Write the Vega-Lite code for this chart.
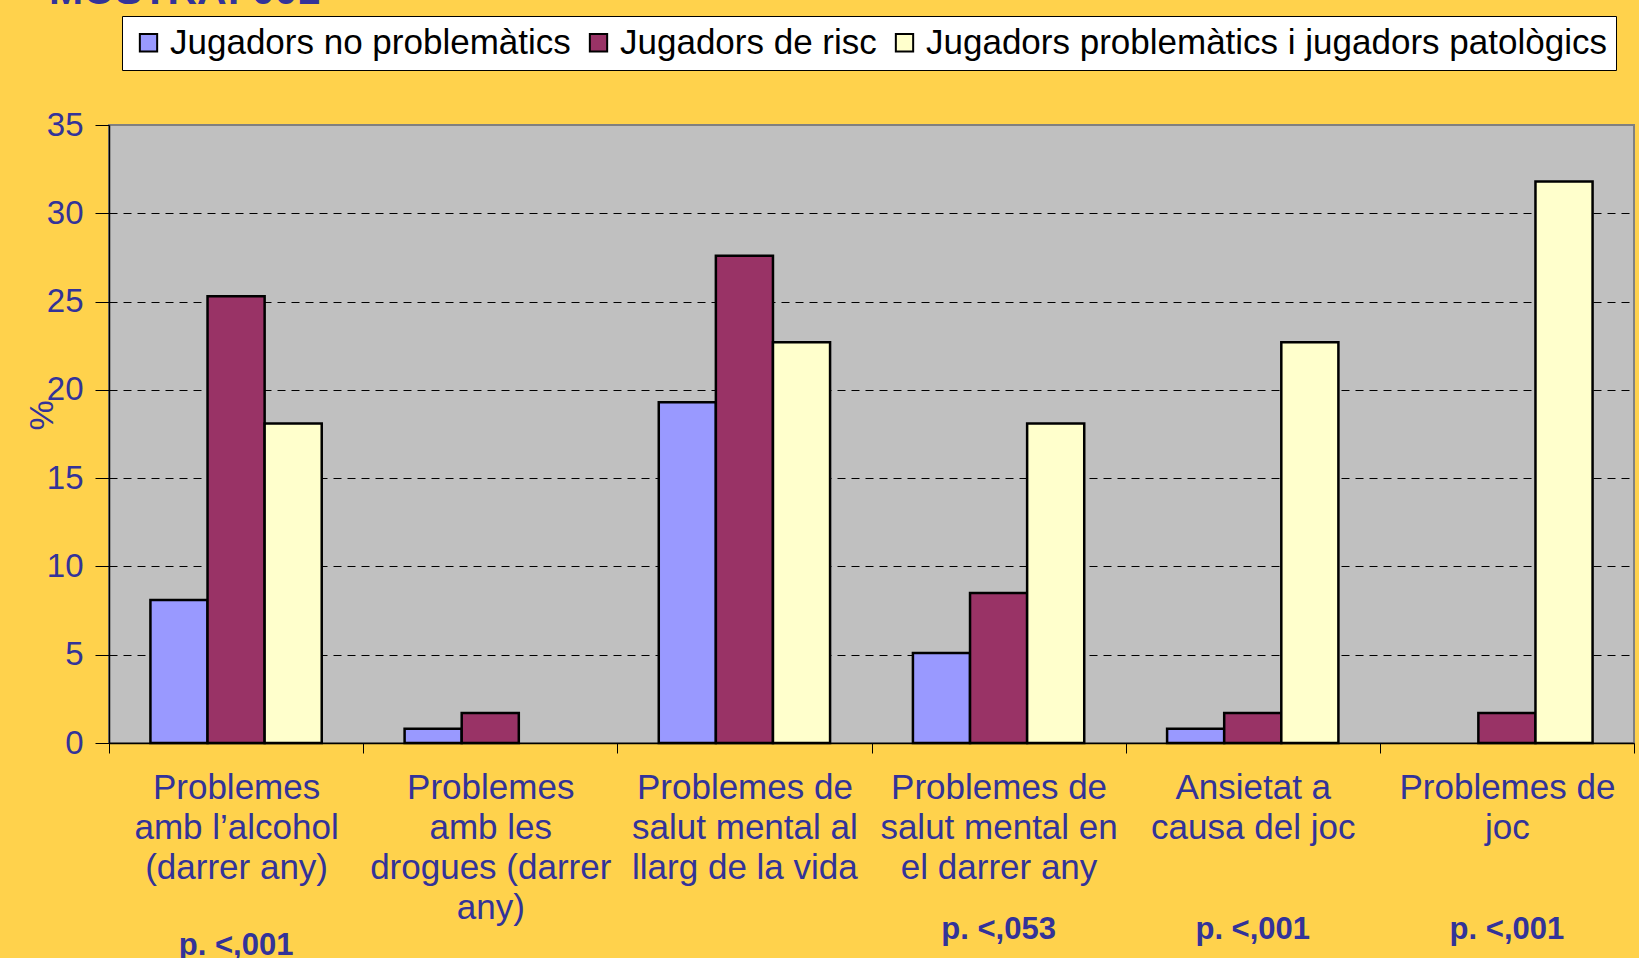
{
  "$schema": "https://vega.github.io/schema/vega-lite/v6.json",
  "width": 1525,
  "height": 618,
  "autosize": {"type": "none"},
  "padding": {"left": 109, "top": 125, "right": 5, "bottom": 215},
  "background": "#FFD24C",
  "title": {
    "text": "MOSTRA: 001",
    "anchor": "start",
    "frame": "group",
    "orient": "top",
    "offset": 0,
    "dx": -60,
    "dy": 29,
    "fontSize": 41,
    "fontWeight": "bold",
    "color": "#333399",
    "font": "Liberation Sans",
    "baseline": "alphabetic"
  },
  "config": {
    "font": "Liberation Sans",
    "view": {"fill": "#C0C0C0", "stroke": "#808080", "strokeWidth": 2}
  },
  "datasets": {
    "barres": [
      {"categoria": "Problemes|amb l’alcohol|(darrer any)", "grup": "Jugadors no problemàtics", "valor": 8.1},
      {"categoria": "Problemes|amb l’alcohol|(darrer any)", "grup": "Jugadors de risc", "valor": 25.3},
      {"categoria": "Problemes|amb l’alcohol|(darrer any)", "grup": "Jugadors problemàtics i jugadors patològics", "valor": 18.1},
      {"categoria": "Problemes|amb les|drogues (darrer|any)", "grup": "Jugadors no problemàtics", "valor": 0.8},
      {"categoria": "Problemes|amb les|drogues (darrer|any)", "grup": "Jugadors de risc", "valor": 1.7},
      {"categoria": "Problemes|amb les|drogues (darrer|any)", "grup": "Jugadors problemàtics i jugadors patològics", "valor": 0},
      {"categoria": "Problemes de|salut mental al|llarg de la vida", "grup": "Jugadors no problemàtics", "valor": 19.3},
      {"categoria": "Problemes de|salut mental al|llarg de la vida", "grup": "Jugadors de risc", "valor": 27.6},
      {"categoria": "Problemes de|salut mental al|llarg de la vida", "grup": "Jugadors problemàtics i jugadors patològics", "valor": 22.7},
      {"categoria": "Problemes de|salut mental en|el darrer any", "grup": "Jugadors no problemàtics", "valor": 5.1},
      {"categoria": "Problemes de|salut mental en|el darrer any", "grup": "Jugadors de risc", "valor": 8.5},
      {"categoria": "Problemes de|salut mental en|el darrer any", "grup": "Jugadors problemàtics i jugadors patològics", "valor": 18.1},
      {"categoria": "Ansietat a|causa del joc", "grup": "Jugadors no problemàtics", "valor": 0.8},
      {"categoria": "Ansietat a|causa del joc", "grup": "Jugadors de risc", "valor": 1.7},
      {"categoria": "Ansietat a|causa del joc", "grup": "Jugadors problemàtics i jugadors patològics", "valor": 22.7},
      {"categoria": "Problemes de|joc", "grup": "Jugadors no problemàtics", "valor": 0},
      {"categoria": "Problemes de|joc", "grup": "Jugadors de risc", "valor": 1.7},
      {"categoria": "Problemes de|joc", "grup": "Jugadors problemàtics i jugadors patològics", "valor": 31.8}
    ],
    "pvalors": [
      {"categoria": "Problemes|amb l’alcohol|(darrer any)", "p": "p. <,001"},
      {"categoria": "Problemes de|salut mental en|el darrer any", "p": "p. <,053"},
      {"categoria": "Ansietat a|causa del joc", "p": "p. <,001"},
      {"categoria": "Problemes de|joc", "p": "p. <,001"}
    ]
  },
  "layer": [
    {
      "data": {"name": "barres"},
      "transform": [{"filter": "datum.valor > 0"}],
      "mark": {"type": "bar", "stroke": "black", "strokeWidth": 2.5},
      "encoding": {
        "x": {
          "field": "categoria",
          "type": "nominal",
          "sort": null,
          "scale": {"paddingInner": 0, "paddingOuter": 0},
          "axis": {
            "title": null,
            "labelExpr": "split(datum.label, '|')",
            "labelAngle": 0,
            "labelFontSize": 35,
            "labelLineHeight": 40,
            "labelColor": "#333399",
            "labelPadding": 17,
            "labelLimit": 500,
            "labelBaseline": "top",
            "tickBand": "extent",
            "tickSize": 10,
            "tickColor": "black",
            "domainColor": "black",
            "domainWidth": 1.5,
            "grid": false
          }
        },
        "xOffset": {
          "field": "grup",
          "type": "nominal",
          "sort": ["Jugadors no problemàtics", "Jugadors de risc", "Jugadors problemàtics i jugadors patològics"],
          "scale": {"domain": ["Jugadors no problemàtics", "Jugadors de risc", "Jugadors problemàtics i jugadors patològics"], "paddingInner": 0, "paddingOuter": 0.7255}
        },
        "y": {
          "field": "valor",
          "type": "quantitative",
          "scale": {"domain": [0, 35], "nice": false},
          "axis": {
            "title": "%",
            "titleFontSize": 34,
            "titleFontWeight": "normal",
            "titleColor": "#333399",
            "titleX": -67,
            "titleY": 290,
            "titleAngle": 270,
            "titleAlign": "center",
            "titleBaseline": "middle",
            "values": [0, 5, 10, 15, 20, 25, 30, 35],
            "labelFontSize": 33,
            "labelColor": "#333399",
            "labelPadding": 12,
            "tickSize": 14,
            "tickColor": "black",
            "domainColor": "black",
            "domainWidth": 1.5,
            "grid": true,
            "gridDash": [8, 6],
            "gridColor": "black",
            "gridWidth": 1,
            "gridOpacity": {"condition": {"test": "datum.value == 0 || datum.value == 35", "value": 0}, "value": 1}
          }
        },
        "color": {
          "field": "grup",
          "type": "nominal",
          "scale": {
            "domain": ["Jugadors no problemàtics", "Jugadors de risc", "Jugadors problemàtics i jugadors patològics"],
            "range": ["#9999FF", "#993366", "#FFFFCC"]
          },
          "legend": {
            "orient": "none",
            "legendX": 13,
            "legendY": -109,
            "direction": "horizontal",
            "columns": 3,
            "title": null,
            "fillColor": "white",
            "strokeColor": "black",
            "padding": 9,
            "labelFontSize": 35,
            "labelColor": "black",
            "labelLimit": 1000,
            "labelOffset": 4,
            "columnPadding": 10,
            "symbolType": "square",
            "symbolSize": 300,
            "symbolStrokeColor": "black",
            "symbolStrokeWidth": 2,
            "symbolOpacity": 1
          }
        }
      }
    },
    {
      "data": {"name": "pvalors"},
      "transform": [{"filter": "datum.categoria != 'Problemes|amb l’alcohol|(darrer any)'"}],
      "mark": {"type": "text", "fontSize": 31, "fontWeight": "bold", "color": "#333399", "baseline": "middle"},
      "encoding": {
        "x": {"field": "categoria", "type": "nominal", "sort": null},
        "y": {"datum": -10.6, "type": "quantitative"},
        "text": {"field": "p"}
      }
    },
    {
      "data": {"name": "pvalors"},
      "transform": [{"filter": "datum.categoria == 'Problemes|amb l’alcohol|(darrer any)'"}],
      "mark": {"type": "text", "fontSize": 31, "fontWeight": "bold", "color": "#333399", "baseline": "middle"},
      "encoding": {
        "x": {"field": "categoria", "type": "nominal", "sort": null},
        "y": {"datum": -11.5, "type": "quantitative"},
        "text": {"field": "p"}
      }
    }
  ]
}
